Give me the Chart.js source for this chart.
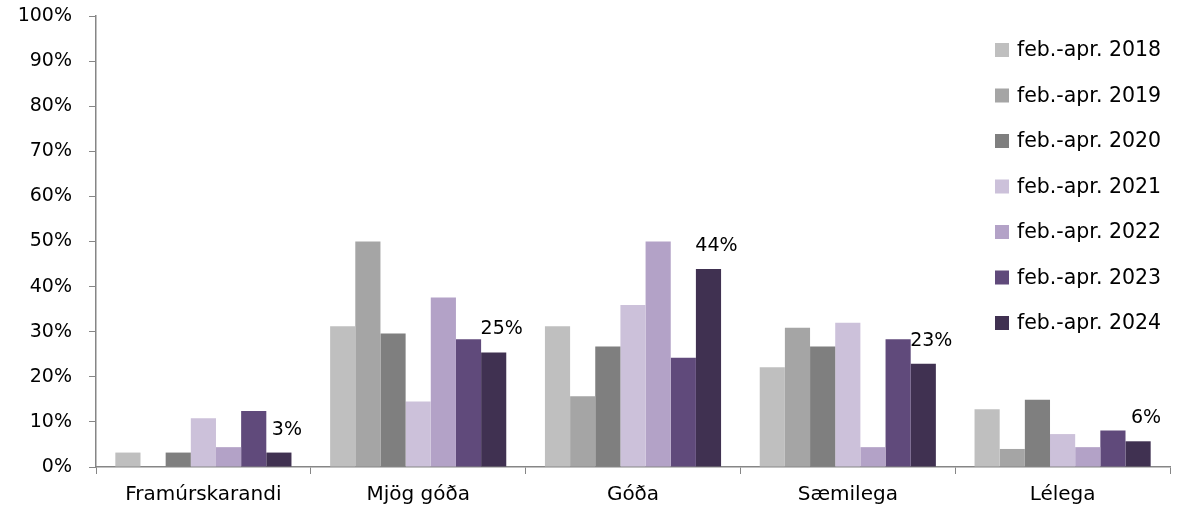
<!DOCTYPE html>
<html>
<head>
<meta charset="utf-8">
<script src="https://cdn.jsdelivr.net/npm/chart.js@4.4.1/dist/chart.umd.min.js"></script>
<style>
  body { margin: 0; background: #fff; }
  canvas { display: block; }
</style>
</head>
<body>
<canvas id="myChart" width="1187" height="515"></canvas>
<script>
// categories and series (percent)
const categories = ['Framúrskarandi', 'Mjög góða', 'Góða', 'Sæmilega', 'Lélega'];
const seriesNames = ['feb.-apr. 2018', 'feb.-apr. 2019', 'feb.-apr. 2020', 'feb.-apr. 2021',
                     'feb.-apr. 2022', 'feb.-apr. 2023', 'feb.-apr. 2024'];
const s2018 = [3.2, 31.2, 31.2, 22.1, 12.8];
const s2019 = [0, 50.0, 15.7, 30.9, 4.0];
const s2020 = [3.2, 29.6, 26.7, 26.7, 14.9];
const s2021 = [10.8, 14.5, 35.9, 32.0, 7.3];
const s2022 = [4.4, 37.6, 50.0, 4.4, 4.4];
const s2023 = [12.4, 28.3, 24.2, 28.3, 8.1];
const s2024 = [3.2, 25.4, 43.9, 22.9, 5.7];
const yTicks = [0, 10, 20, 30, 40, 50, 60, 70, 80, 90, 100];

const colors = ['#bfbfbf', '#a5a5a5', '#7f7f7f', '#ccc1da', '#b3a2c7', '#604a7b', '#403151'];
const allSeries = [s2018, s2019, s2020, s2021, s2022, s2023, s2024];
const FONT = 'DejaVu Sans';
const axisColor = '#868686';

var datasets = [];
for (var i = 0; i < allSeries.length; i++) {
  datasets.push({
    label: seriesNames[i],
    data: allSeries[i],
    backgroundColor: colors[i],
    borderWidth: 0,
    categoryPercentage: 0.82,
    barPercentage: 1.0
  });
}

// labels on last series only
const lastLabels = {
  id: 'lastLabels',
  afterDatasetsDraw(chart) {
    var c = chart.ctx;
    var idx = chart.data.datasets.length - 1;
    var meta = chart.getDatasetMeta(idx);
    c.save();
    c.font = '19px "' + FONT + '"';
    c.fillStyle = '#000';
    c.textAlign = 'center';
    c.textBaseline = 'middle';
    meta.data.forEach(function(bar, j) {
      var v = chart.data.datasets[idx].data[j];
      c.fillText(Math.round(v) + '%', bar.x + 8, bar.y - 23);
    });
    c.restore();
  }
};

// legend drawn at top right inside the plot
const boxLegend = {
  id: 'boxLegend',
  afterDraw(chart) {
    var c = chart.ctx;
    c.save();
    c.font = '20.5px "' + FONT + '"';
    c.textBaseline = 'middle';
    c.textAlign = 'left';
    chart.data.datasets.forEach(function(ds, k) {
      var y = 50 + k * 45.5;
      c.fillStyle = ds.backgroundColor;
      c.fillRect(995, y - 7, 14, 14);
      c.fillStyle = '#000';
      c.fillText(ds.label, 1017, y + 1);
    });
    c.restore();
  }
};

var ctx = document.getElementById('myChart').getContext('2d');
var myChart = new Chart(ctx, {
  type: 'bar',
  data: {
    labels: categories,
    datasets: datasets
  },
  options: {
    responsive: false,
    animation: false,
    devicePixelRatio: 1,
    layout: { padding: { top: 16, right: 17, left: 0, bottom: 0 } },
    plugins: {
      legend: { display: false },
      tooltip: { enabled: false }
    },
    scales: {
      x: {
        afterFit: function(s) { s.height = 48; },
        grid: {
          offset: true,
          drawOnChartArea: false,
          color: axisColor,
          tickLength: 7
        },
        border: { color: axisColor, width: 1.5 },
        ticks: {
          color: '#000',
          padding: 9,
          font: { family: FONT, size: 20 }
        }
      },
      y: {
        min: 0,
        max: 100,
        afterFit: function(s) {
          s.width = 96;
          s.paddingTop = 0;
          s.paddingBottom = 0;
        },
        afterBuildTicks: function(s) { s.ticks = yTicks.map(function(v) { return { value: v }; }); },
        grid: {
          drawOnChartArea: false,
          color: axisColor,
          tickLength: 7
        },
        border: { color: axisColor, width: 1.5 },
        ticks: {
          color: '#000',
          padding: 17,
          font: { family: FONT, size: 19 },
          callback: function(v) { return v + '%'; }
        }
      }
    }
  },
  plugins: [lastLabels, boxLegend]
});
</script>
</body>
</html>
